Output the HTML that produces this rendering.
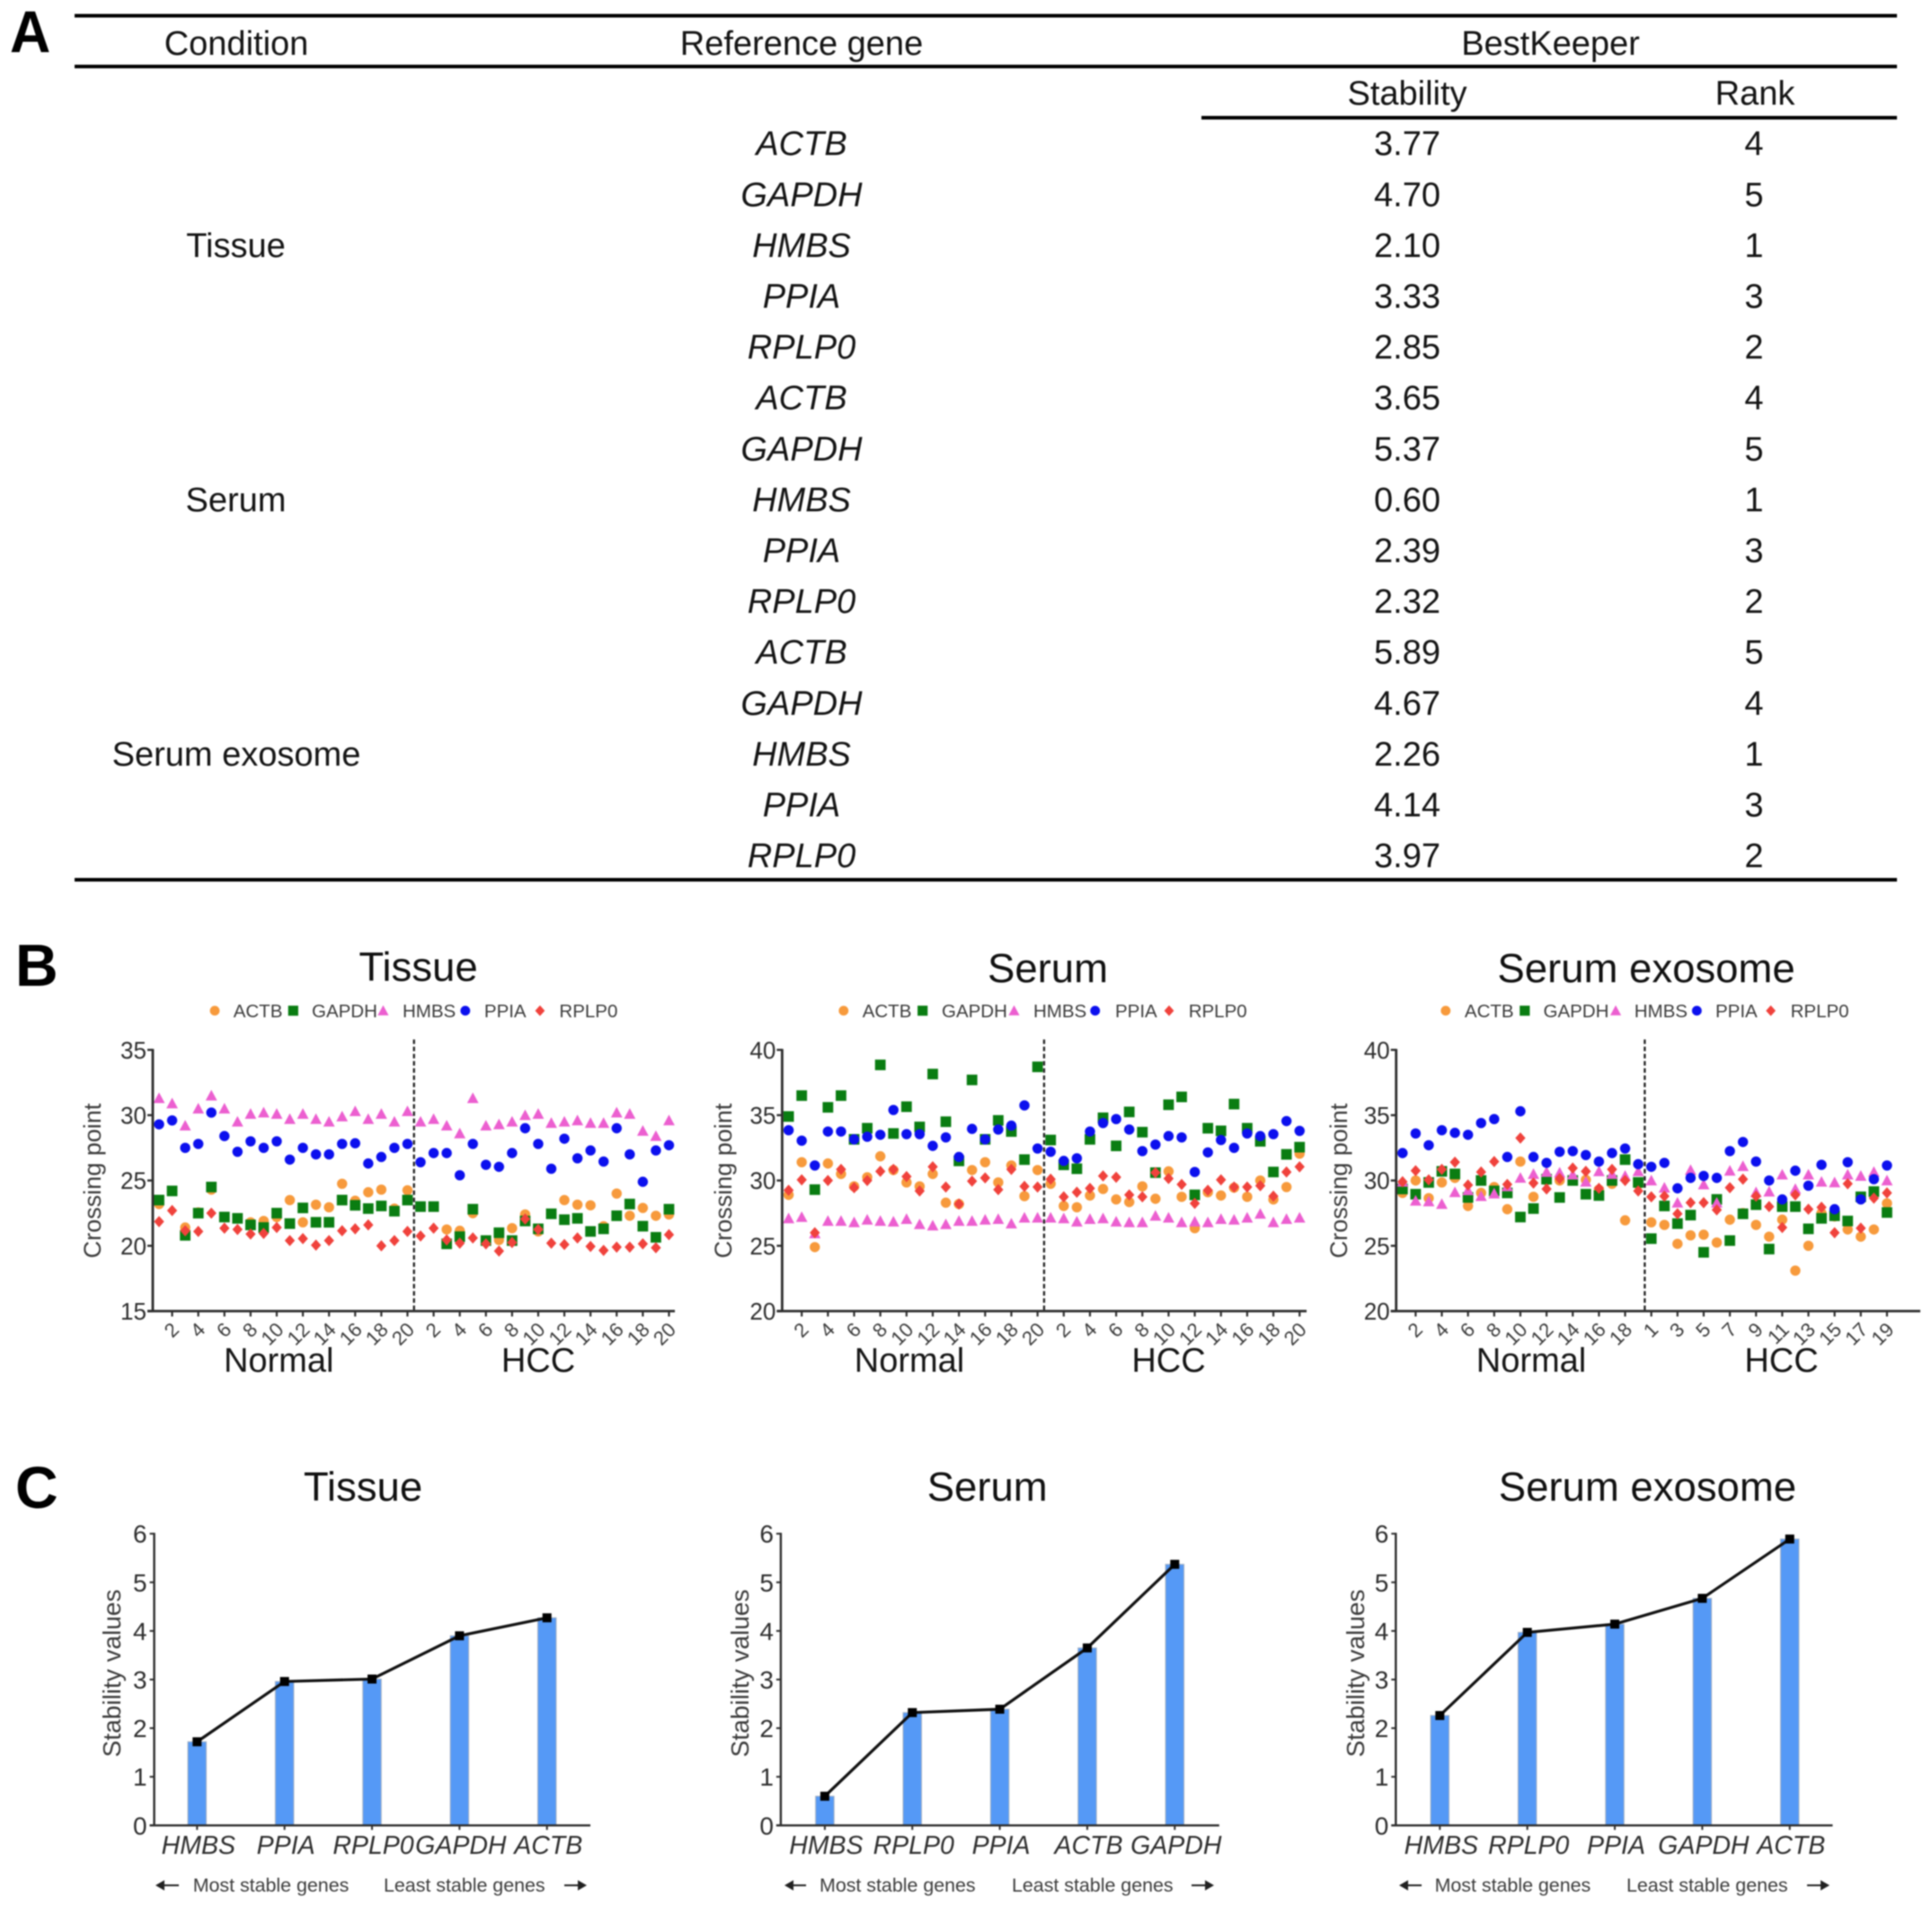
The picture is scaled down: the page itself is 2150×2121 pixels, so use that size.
<!DOCTYPE html>
<html lang="en">
<head>
<meta charset="utf-8">
<title>BestKeeper reference gene stability</title>
<style>
  html, body { margin: 0; padding: 0; background: #fff; }
  svg { display: block; filter: blur(0.7px); }
  text { font-family: "Liberation Sans", sans-serif; }
  .t { font-size: 38px; fill: #141414; text-anchor: middle; }
  .i { font-style: italic; }
  .letter { font-size: 66px; font-weight: bold; fill: #000; }
  .title { font-size: 45.5px; fill: #111; text-anchor: middle; }
  .group { font-size: 38px; fill: #161616; text-anchor: middle; }
  .ytitle { font-size: 27px; fill: #3c3c3c; text-anchor: middle; }
  .leg { font-size: 20.5px; fill: #3c3c3c; }
  .dir { font-size: 21.4px; fill: #3c3c3c; }
</style>
</head>
<body>
<svg id="figure" xmlns="http://www.w3.org/2000/svg" width="2150" height="2121" viewBox="0 0 2150 2121">
  <rect x="0" y="0" width="2150" height="2121" fill="#fff"/>

  <g>
    <text class="letter" transform="translate(11 58) scale(.95 1)">A</text>
    <rect x="83" y="15.5" width="2028" height="4" fill="#000"/>
    <rect x="83" y="72" width="2028" height="4" fill="#000"/>
    <rect x="1337" y="129" width="774" height="4" fill="#000"/>
    <rect x="83" y="977" width="2028" height="4" fill="#000"/>
    <text class="t" x="263" y="61">Condition</text>
    <text class="t" x="892" y="61">Reference gene</text>
    <text class="t" x="1725.5" y="61">BestKeeper</text>
    <text class="t" x="1566" y="116.7">Stability</text>
    <text class="t" x="1953" y="116.7">Rank</text>
    <text class="t" x="262.5" y="285.9">Tissue</text>
    <text class="t" x="262.5" y="568.9">Serum</text>
    <text class="t" x="263" y="851.9">Serum exosome</text>

    <g><text class="t i" x="892" y="172.7">ACTB</text><text class="t" x="1566" y="172.7">3.77</text><text class="t" x="1952" y="172.7">4</text></g>
    <g><text class="t i" x="892" y="229.3">GAPDH</text><text class="t" x="1566" y="229.3">4.70</text><text class="t" x="1952" y="229.3">5</text></g>
    <g><text class="t i" x="892" y="285.9">HMBS</text><text class="t" x="1566" y="285.9">2.10</text><text class="t" x="1952" y="285.9">1</text></g>
    <g><text class="t i" x="892" y="342.5">PPIA</text><text class="t" x="1566" y="342.5">3.33</text><text class="t" x="1952" y="342.5">3</text></g>
    <g><text class="t i" x="892" y="399.1">RPLP0</text><text class="t" x="1566" y="399.1">2.85</text><text class="t" x="1952" y="399.1">2</text></g>
    <g><text class="t i" x="892" y="455.7">ACTB</text><text class="t" x="1566" y="455.7">3.65</text><text class="t" x="1952" y="455.7">4</text></g>
    <g><text class="t i" x="892" y="512.3">GAPDH</text><text class="t" x="1566" y="512.3">5.37</text><text class="t" x="1952" y="512.3">5</text></g>
    <g><text class="t i" x="892" y="568.9">HMBS</text><text class="t" x="1566" y="568.9">0.60</text><text class="t" x="1952" y="568.9">1</text></g>
    <g><text class="t i" x="892" y="625.5">PPIA</text><text class="t" x="1566" y="625.5">2.39</text><text class="t" x="1952" y="625.5">3</text></g>
    <g><text class="t i" x="892" y="682.1">RPLP0</text><text class="t" x="1566" y="682.1">2.32</text><text class="t" x="1952" y="682.1">2</text></g>
    <g><text class="t i" x="892" y="738.7">ACTB</text><text class="t" x="1566" y="738.7">5.89</text><text class="t" x="1952" y="738.7">5</text></g>
    <g><text class="t i" x="892" y="795.3">GAPDH</text><text class="t" x="1566" y="795.3">4.67</text><text class="t" x="1952" y="795.3">4</text></g>
    <g><text class="t i" x="892" y="851.9">HMBS</text><text class="t" x="1566" y="851.9">2.26</text><text class="t" x="1952" y="851.9">1</text></g>
    <g><text class="t i" x="892" y="908.5">PPIA</text><text class="t" x="1566" y="908.5">4.14</text><text class="t" x="1952" y="908.5">3</text></g>
    <g><text class="t i" x="892" y="965.1">RPLP0</text><text class="t" x="1566" y="965.1">3.97</text><text class="t" x="1952" y="965.1">2</text></g>
  </g>

  <text class="letter" x="17" y="1097">B</text>
  <text class="letter" x="17" y="1678">C</text>

  <g id="b-tissue">
    <text class="title" x="465.5" y="1091.7">Tissue</text>
    <text class="ytitle" transform="translate(112 1314) rotate(-90)">Crossing point</text>
    <text class="group" x="310.2" y="1526.5">Normal</text>
    <text class="group" x="599" y="1526.5">HCC</text>
  </g>
  <g id="b-serum">
    <text class="title" x="1166" y="1093">Serum</text>
    <text class="ytitle" transform="translate(814 1314) rotate(-90)">Crossing point</text>
    <text class="group" x="1012" y="1526.5">Normal</text>
    <text class="group" x="1300.5" y="1526.5">HCC</text>
  </g>
  <g id="b-exosome">
    <text class="title" x="1832" y="1093">Serum exosome</text>
    <text class="ytitle" transform="translate(1499 1314) rotate(-90)">Crossing point</text>
    <text class="group" x="1704" y="1526.5">Normal</text>
    <text class="group" x="1982.5" y="1526.5">HCC</text>
  </g>

  <g id="c-tissue">
    <text class="title" x="404" y="1670">Tissue</text>
    <text class="ytitle" transform="translate(134 1862) rotate(-90)" style="font-size:28px">Stability values</text>
    <text class="dir" x="214.7" y="2105">Most stable genes</text>
    <text class="dir" x="427" y="2105">Least stable genes</text>
    <g stroke="#222" stroke-width="2" fill="#222">
      <path d="M199 2098H180M175 2098l7-4v8z"/><path d="M628 2098H646M651 2098l-7-4v8z"/>
    </g>
  </g>
  <g id="c-serum">
    <text class="title" x="1098.7" y="1670">Serum</text>
    <text class="ytitle" transform="translate(833 1862) rotate(-90)" style="font-size:28px">Stability values</text>
    <text class="dir" x="912" y="2105">Most stable genes</text>
    <text class="dir" x="1126" y="2105">Least stable genes</text>
    <g stroke="#222" stroke-width="2" fill="#222">
      <path d="M897 2098H880M875 2098l7-4v8z"/><path d="M1326 2098H1344M1349 2098l-7-4v8z"/>
    </g>
  </g>
  <g id="c-exosome">
    <text class="title" x="1833.4" y="1670">Serum exosome</text>
    <text class="ytitle" transform="translate(1518 1862) rotate(-90)" style="font-size:28px">Stability values</text>
    <text class="dir" x="1596.6" y="2105">Most stable genes</text>
    <text class="dir" x="1810" y="2105">Least stable genes</text>
    <g stroke="#222" stroke-width="2" fill="#222">
      <path d="M1582 2098H1564M1559 2098l7-4v8z"/><path d="M2011 2098H2029M2034 2098l-7-4v8z"/>
    </g>
  </g>
</svg>

<script>
// ---- Panel B data (crossing point values) ----
const geneNames = ['ACTB', 'GAPDH', 'HMBS', 'PPIA', 'RPLP0'];

const tissueYTicks = [15, 20, 25, 30, 35];
const serumYTicks = [20, 25, 30, 35, 40];
const exosomeYTicks = [20, 25, 30, 35, 40];

const tissueNormalTicks = [2, 4, 6, 8, 10, 12, 14, 16, 18, 20];
const tissueHccTicks = [2, 4, 6, 8, 10, 12, 14, 16, 18, 20];
const serumNormalTicks = [2, 4, 6, 8, 10, 12, 14, 16, 18, 20];
const serumHccTicks = [2, 4, 6, 8, 10, 12, 14, 16, 18, 20];
const exosomeNormalTicks = [2, 4, 6, 8, 10, 12, 14, 16, 18];
const exosomeHccTicks = [1, 3, 5, 7, 9, 11, 13, 15, 17, 19];

const tissueActb = [23.2, 24.2, 21.4, 22.55, 24.3, 22.2, 22.1, 21.8, 21.9, 22.2, 23.5, 21.8, 23.15, 22.95, 24.75, 23.45, 24.1, 24.3, 22.85, 24.25,
  23.0, 23.0, 21.25, 21.15, 22.5, 20.4, 20.45, 21.35, 22.4, 21.1, 22.45, 23.5, 23.15, 23.1, 21.5, 24.0, 22.3, 22.9, 22.3, 22.4];
const tissueGapdh = [23.5, 24.2, 20.8, 22.5, 24.5, 22.2, 22.1, 21.6, 21.4, 22.5, 21.7, 22.9, 21.8, 21.8, 23.5, 23.1, 22.85, 23.05, 22.65, 23.5,
  23.0, 23.0, 20.15, 20.7, 22.8, 20.4, 21.0, 20.4, 21.9, 21.3, 22.45, 22.0, 22.1, 21.1, 21.3, 22.3, 23.2, 21.5, 20.65, 22.8];
const tissueHmbs = [31.3, 30.9, 29.2, 30.5, 31.5, 30.5, 29.5, 30.1, 30.2, 30.1, 29.7, 30.1, 29.7, 29.5, 29.9, 30.3, 29.7, 30.1, 29.5, 30.3,
  29.5, 29.7, 29.2, 28.6, 31.3, 29.2, 29.3, 29.5, 30.0, 30.1, 29.4, 29.5, 29.6, 29.4, 29.4, 30.2, 30.1, 28.8, 28.4, 29.6];
const tissuePpia = [29.3, 29.6, 27.5, 27.8, 30.2, 28.4, 27.2, 28.0, 27.5, 28.0, 26.6, 27.5, 27.0, 27.0, 27.8, 27.85, 26.3, 26.8, 27.5, 27.8,
  26.4, 27.1, 27.1, 25.4, 27.8, 26.2, 26.05, 27.1, 29.0, 27.8, 25.9, 28.2, 26.7, 27.3, 26.45, 29.0, 27.0, 24.9, 27.3, 27.7];
const tissueRplp0 = [21.85, 22.7, 21.15, 21.1, 22.5, 21.35, 21.25, 20.9, 20.95, 21.4, 20.4, 20.55, 20.05, 20.4, 21.15, 21.3, 21.6, 20.0, 20.4, 21.1,
  20.75, 21.35, 20.45, 20.2, 20.6, 20.15, 19.6, 20.25, 22.05, 21.25, 20.2, 20.1, 20.6, 19.95, 19.65, 19.9, 19.9, 20.15, 19.85, 20.85];

const serumActb = [28.9, 31.4, 24.9, 31.3, 30.5, 29.55, 30.25, 31.85, 30.8, 29.85, 29.55, 30.5, 28.3, 28.2, 30.8, 31.4, 29.85, 31.15, 28.8, 30.8,
  29.75, 28.05, 27.95, 28.85, 29.35, 28.55, 28.35, 29.55, 28.6, 30.7, 28.75, 26.35, 29.1, 28.85, 29.45, 28.75, 30.0, 28.55, 29.5, 32.05];
const serumGapdh = [34.9, 36.5, 29.3, 35.6, 36.5, 33.15, 34.0, 38.85, 33.6, 35.65, 34.1, 38.15, 34.5, 31.5, 37.7, 33.15, 34.6, 33.75, 31.6, 38.7,
  33.1, 31.2, 30.9, 33.15, 34.8, 32.65, 35.25, 33.7, 30.6, 35.8, 36.4, 28.9, 34.0, 33.8, 35.85, 34.0, 33.0, 30.65, 32.0, 32.55];
const serumHmbs = [27.1, 27.2, 25.95, 26.9, 26.9, 26.8, 27.0, 26.9, 26.85, 27.05, 26.65, 26.55, 26.65, 26.9, 26.9, 27.0, 27.05, 26.7, 27.15, 27.15,
  27.15, 27.1, 26.85, 27.05, 27.1, 26.85, 26.8, 26.8, 27.3, 27.15, 26.8, 26.85, 26.8, 27.05, 27.0, 27.15, 27.45, 26.8, 27.05, 27.15];
const serumPpia = [33.85, 33.05, 31.15, 33.75, 33.75, 33.15, 33.35, 33.5, 35.4, 33.55, 33.55, 32.65, 33.3, 31.8, 33.95, 33.15, 33.9, 34.2, 35.75, 32.45,
  32.2, 31.5, 31.7, 33.75, 34.4, 34.7, 33.9, 32.25, 32.75, 33.4, 33.3, 30.65, 32.15, 33.1, 32.5, 33.6, 33.4, 33.55, 34.55, 33.8];
const serumRplp0 = [29.25, 30.05, 26.0, 30.0, 30.85, 29.45, 30.0, 30.7, 30.85, 30.3, 29.2, 31.05, 29.5, 28.2, 29.95, 30.2, 29.3, 30.85, 29.55, 29.5,
  30.1, 28.75, 29.1, 29.4, 30.35, 30.25, 28.9, 28.75, 30.6, 30.15, 29.7, 28.25, 29.25, 30.05, 29.5, 29.5, 29.6, 28.8, 30.65, 31.05];

const exosomeActb = [29.05, 30.0, 28.65, 29.85, 30.2, 28.05, 29.05, 29.5, 27.8, 31.45, 28.75, 30.0, 30.0, 30.0, 30.05, 29.3, 29.75, 26.95, 29.7,
  26.8, 26.6, 25.15, 25.8, 25.85, 25.25, 27.0, 27.5, 26.6, 25.7, 27.0, 23.1, 25.0, 27.5, 27.25, 26.25, 25.7, 26.25, 28.25];
const exosomeGapdh = [29.35, 28.95, 29.85, 30.7, 30.5, 28.7, 30.0, 29.2, 29.05, 27.2, 27.85, 30.1, 28.7, 30.0, 28.95, 28.85, 30.0, 31.6, 29.85,
  25.55, 28.05, 26.7, 27.35, 24.5, 28.55, 25.4, 27.45, 28.15, 24.75, 28.0, 28.0, 26.3, 27.1, 27.3, 26.9, 28.75, 29.15, 27.55];
const exosomeHmbs = [29.9, 28.45, 28.4, 28.2, 29.1, 29.25, 28.8, 29.0, 29.55, 30.2, 30.5, 30.65, 30.6, 30.45, 29.9, 30.7, 30.5, 30.35, 30.7,
  30.0, 29.45, 28.3, 30.8, 29.7, 28.3, 30.75, 31.1, 29.1, 29.15, 30.45, 29.35, 30.45, 29.9, 29.85, 30.45, 30.35, 30.65, 30.0];
const exosomePpia = [32.1, 33.6, 32.7, 33.85, 33.65, 33.5, 34.4, 34.7, 31.8, 35.3, 31.8, 31.35, 32.2, 32.25, 31.95, 31.45, 32.1, 32.45, 31.25,
  31.05, 31.35, 29.4, 30.2, 30.35, 30.2, 32.25, 32.95, 31.45, 30.0, 28.55, 30.75, 29.6, 31.2, 27.8, 31.4, 28.55, 30.1, 31.15];
const exosomeRplp0 = [29.9, 30.75, 30.05, 30.85, 31.4, 29.65, 30.65, 31.45, 29.7, 33.25, 29.8, 29.35, 30.15, 30.95, 30.7, 29.4, 30.85, 30.0, 29.2,
  28.75, 28.8, 27.45, 28.3, 28.3, 27.75, 29.45, 30.1, 28.8, 28.0, 26.4, 28.9, 27.8, 27.95, 26.0, 29.75, 26.35, 28.65, 29.05];

// ---- Panel C data ----
const stabilityTicks = [0, 1, 2, 3, 4, 5, 6];
const tissueGenes = ['HMBS', 'PPIA', 'RPLP0', 'GAPDH', 'ACTB'];
const tissueStability = [1.72, 2.96, 3.01, 3.9, 4.27];
const serumGenes = ['HMBS', 'RPLP0', 'PPIA', 'ACTB', 'GAPDH'];
const serumStability = [0.60, 2.32, 2.39, 3.65, 5.37];
const exosomeGenes = ['HMBS', 'RPLP0', 'PPIA', 'GAPDH', 'ACTB'];
const exosomeStability = [2.26, 3.97, 4.14, 4.67, 5.89];

// ---- Drawing ----
const NS = 'http://www.w3.org/2000/svg';
const AXIS = '#2e2e2e';
const LABEL = '#2e2e2e';
const geneColors = { ACTB: '#f79a3c', GAPDH: '#0a7d12', HMBS: '#ec5fd0', PPIA: '#0c10ee', RPLP0: '#f0423c' };

function make(tag, parent, attrs, txt) {
  const e = document.createElementNS(NS, tag);
  for (const k in attrs) e.setAttribute(k, attrs[k]);
  if (txt !== undefined) e.textContent = txt;
  parent.appendChild(e);
  return e;
}

function marker(parent, gene, cx, cy, s) {
  const fill = geneColors[gene];
  if (gene === 'ACTB' || gene === 'PPIA') {
    return make('circle', parent, { cx: cx, cy: cy, r: 5.7 * s, fill: fill });
  }
  if (gene === 'GAPDH') {
    const a = 5.9 * s;
    return make('rect', parent, { x: cx - a, y: cy - a, width: 2 * a, height: 2 * a, fill: fill });
  }
  if (gene === 'HMBS') {
    const a = 6.4 * s;
    return make('polygon', parent, { points: [cx, cy - a, cx + a, cy + a * 0.85, cx - a, cy + a * 0.85].join(','), fill: fill });
  }
  const a = 6.3 * s;
  return make('polygon', parent, { points: [cx, cy - a, cx + a * 0.9, cy, cx, cy + a, cx - a * 0.9, cy].join(','), fill: fill });
}

function drawScatter(p) {
  const g = document.getElementById(p.id);
  const xScale = i => p.x0 + i * p.dx;
  const yScale = v => p.yBot - (v - p.yTicks[0]) / (p.yTicks[p.yTicks.length - 1] - p.yTicks[0]) * (p.yBot - p.yTop);

  // legend
  geneNames.forEach((gene, i) => {
    const m = marker(g, gene, p.legendMarkers[i], 1124.7, 0.95);
    
    
    const t = make('text', g, { class: 'leg', x: p.legendTexts[i], y: 1132 }, gene);
    
    
  });

  // series
  geneNames.forEach((gene, s) => {
    p.series[s].forEach((v, i) => {
      const m = marker(g, gene, xScale(i), yScale(v), 1);
      
      
    });
  });

  // axes
  const yAxis = make('line', g, { x1: p.axisX, x2: p.axisX, y1: p.yTop - 1, y2: p.yBot + 1, stroke: AXIS, 'stroke-width': 2.8 });
  
  
  const xAxis = make('line', g, { x1: p.axisX - 6, x2: p.axisEnd, y1: p.yBot, y2: p.yBot, stroke: AXIS, 'stroke-width': 2.8 });
  
  

  p.yTicks.forEach(v => {
    const tick = make('line', g, { x1: p.axisX - 6, x2: p.axisX, y1: yScale(v), y2: yScale(v), stroke: AXIS, 'stroke-width': 2.4 });
    
    
    const t = make('text', g, { x: p.axisX - 7, y: yScale(v) + 9.5, 'text-anchor': 'end', 'font-size': 27, 'textLength': 29, 'lengthAdjust': 'spacingAndGlyphs', fill: LABEL }, v);
    
    
  });

  const xLabel = (label, i) => {
    const x = xScale(i);
    const tick = make('line', g, { x1: x, x2: x, y1: p.yBot, y2: p.yBot + 6, stroke: AXIS, 'stroke-width': 2.2 });
    
    
    const ax = x + 9, ay = p.yBot + 22;
    const t = make('text', g, { x: ax, y: ay, 'text-anchor': 'end', 'font-size': 22, fill: '#3c3c3c', transform: 'rotate(-45 ' + ax + ' ' + ay + ')' }, label);
    
    
  };
  p.normalTicks.forEach(l => xLabel(l, l - 1));
  p.hccTicks.forEach(l => xLabel(l, p.nNormal + l - 1));

  const splitX = xScale(p.nNormal - 0.5);
  const split = make('line', g, { x1: splitX, x2: splitX, y1: 1156.7, y2: p.yBot, stroke: '#222', 'stroke-width': 2.3, 'stroke-dasharray': '5 3' });
  
  
}

function drawStability(p) {
  const g = document.getElementById(p.id);
  const yTop = 1706.7, yBot = 2031.3, yMax = 6;
  const xScale = i => p.x0 + i * p.dx;
  const yScale = v => yBot - v / yMax * (yBot - yTop);
  const barW = 20.5;

  p.values.forEach((v, i) => {
    const bar = make('rect', g, { x: xScale(i) - barW / 2, y: yScale(v), width: barW, height: yBot - yScale(v), fill: '#5599f6', stroke: '#a3b0c2', 'stroke-width': 1 });
    
    
  });

  const yAxis = make('line', g, { x1: p.axisX, x2: p.axisX, y1: yTop - 1, y2: yBot + 1, stroke: AXIS, 'stroke-width': 2.4 });
  
  
  const xAxis = make('line', g, { x1: p.axisX - 5, x2: p.axisEnd, y1: yBot, y2: yBot, stroke: AXIS, 'stroke-width': 2.4 });
  
  

  stabilityTicks.forEach(v => {
    const tick = make('line', g, { x1: p.axisX - 5, x2: p.axisX, y1: yScale(v), y2: yScale(v), stroke: AXIS, 'stroke-width': 2 });
    
    
    const t = make('text', g, { x: p.axisX - 8, y: yScale(v) + 10, 'text-anchor': 'end', 'font-size': 28, fill: LABEL }, v);
    
    
  });

  const pts = p.values.map((v, i) => xScale(i) + ',' + yScale(v)).join(' ');
  const line = make('polyline', g, { points: pts, fill: 'none', stroke: '#111', 'stroke-width': 3.2 });
  
  

  p.values.forEach((v, i) => {
    const x = xScale(i), y = yScale(v);
    const dot = make('rect', g, { x: x - 5, y: y - 5, width: 10, height: 10, fill: '#000' });
    
    
    const tick = make('line', g, { x1: x, x2: x, y1: yBot, y2: yBot + 5, stroke: AXIS, 'stroke-width': 2 });
    
    
    const t = make('text', g, { x: x + 1.5, y: 2063, 'text-anchor': 'middle', 'font-size': 28.5, 'font-style': 'italic', fill: LABEL }, p.genes[i]);
    
    
  });
}

drawScatter({
  id: 'b-tissue', x0: 177, dx: 14.55, axisX: 170, axisEnd: 751, yTop: 1168.3, yBot: 1459,
  yTicks: tissueYTicks, nNormal: 20, normalTicks: tissueNormalTicks, hccTicks: tissueHccTicks,
  series: [tissueActb, tissueGapdh, tissueHmbs, tissuePpia, tissueRplp0],
  legendMarkers: [239, 326.3, 426.4, 517.8, 600.9], legendTexts: [259.7, 347, 448, 538.9, 622.4]
});
drawScatter({
  id: 'b-serum', x0: 877.6, dx: 14.58, axisX: 870.4, axisEnd: 1454, yTop: 1168.3, yBot: 1459,
  yTicks: serumYTicks, nNormal: 20, normalTicks: serumNormalTicks, hccTicks: serumHccTicks,
  series: [serumActb, serumGapdh, serumHmbs, serumPpia, serumRplp0],
  legendMarkers: [938.8, 1026.7, 1128.5, 1218.7, 1301], legendTexts: [959.7, 1048, 1150, 1241, 1322.7]
});
drawScatter({
  id: 'b-exosome', x0: 1560.8, dx: 14.57, axisX: 1553.7, axisEnd: 2137, yTop: 1168.3, yBot: 1459,
  yTicks: exosomeYTicks, nNormal: 19, normalTicks: exosomeNormalTicks, hccTicks: exosomeHccTicks,
  series: [exosomeActb, exosomeGapdh, exosomeHmbs, exosomePpia, exosomeRplp0],
  legendMarkers: [1608.8, 1696.8, 1798, 1888.3, 1970.6], legendTexts: [1629.9, 1717.5, 1818.7, 1909, 1992.6]
});

drawStability({ id: 'c-tissue', x0: 219.3, dx: 97.35, axisX: 171.6, axisEnd: 657, genes: tissueGenes, values: tissueStability });
drawStability({ id: 'c-serum', x0: 917.9, dx: 97.35, axisX: 868.9, axisEnd: 1356.8, genes: serumGenes, values: serumStability });
drawStability({ id: 'c-exosome', x0: 1602.3, dx: 97.35, axisX: 1553.3, axisEnd: 2039.4, genes: exosomeGenes, values: exosomeStability });
</script>
</body>
</html>
